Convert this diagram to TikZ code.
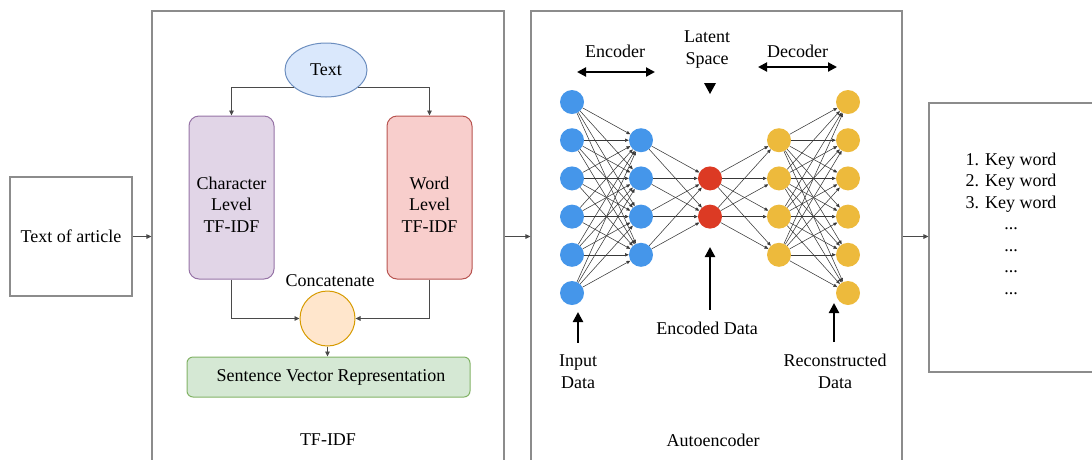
\documentclass[tikz,border=0pt]{standalone}
\usepackage{fontspec}
\setmainfont{Liberation Serif}
\usetikzlibrary{arrows.meta,shapes.geometric,calc}

\definecolor{panelgray}{HTML}{8C8C8C}
\definecolor{linkgray}{HTML}{4A4A4A}
\definecolor{txtfill}{HTML}{DAE8FC}\definecolor{txtdraw}{HTML}{6C8EBF}
\definecolor{chfill}{HTML}{E1D5E7}\definecolor{chdraw}{HTML}{9673A6}
\definecolor{wdfill}{HTML}{F8CECC}\definecolor{wddraw}{HTML}{B85450}
\definecolor{ccfill}{HTML}{FFE6CC}\definecolor{ccdraw}{HTML}{D79B00}
\definecolor{svfill}{HTML}{D5E8D4}\definecolor{svdraw}{HTML}{82B366}
\definecolor{nnblue}{HTML}{4596EA}
\definecolor{nnred}{HTML}{DC3A24}
\definecolor{nnyellow}{HTML}{EDBA3C}
\newcommand{\kwdots}{...}

\begin{document}
\begin{tikzpicture}[x=1pt,y=-1pt,
  font=\fontsize{18}{21.5}\selectfont,
  panel/.style={draw=panelgray, line width=1.1pt, rectangle, inner sep=0pt},
  roundbox/.style={rectangle, rounded corners=10pt, line width=1pt, inner sep=0pt},
  label/.style={inner sep=0pt, align=center},
  link/.style={draw=linkgray, line width=0.9pt, -{Triangle[length=5pt,width=4.5pt]}},
  nnedge/.style={draw=black!78, line width=0.55pt, -{Triangle[length=3.8pt,width=3.2pt]}},
  neuron/.style={circle, minimum size=24pt, inner sep=0pt},
  bigarrow/.style={line width=2.3pt, -{Triangle[length=10pt,width=10pt]}},
  dblarrow/.style={line width=2pt, {Triangle[length=9pt,width=9pt]}-{Triangle[length=9pt,width=9pt]}}
]
\clip (0,0) rectangle (1092,459);

% outer boxes and panels
\node[panel, minimum width=122pt, minimum height=119pt] (article) at (71,236.5) {Text of article};
\node[panel, minimum width=352pt, minimum height=469pt] (tfidfpanel) at (328,245.5) {};
\node[panel, minimum width=371pt, minimum height=469pt] (aepanel) at (716.5,245.5) {};
\node[panel, minimum width=171pt, minimum height=269pt] (outbox) at (1014.5,237.5) {};

\draw[link] (article.east) -- (article.east -| tfidfpanel.west);
\draw[link] (tfidfpanel.east |- article.east) -- (aepanel.west |- article.east);
\draw[link] (aepanel.east |- article.east) -- (outbox.west |- article.east);

% TF-IDF panel
\node[ellipse, draw=txtdraw, fill=txtfill, line width=1pt, minimum width=82pt, minimum height=54pt, inner sep=0pt] (text) at (326,70) {Text};
\node[roundbox, draw=chdraw, fill=chfill, minimum width=85pt, minimum height=163pt] (char) at (231.5,197.5) {};
\node[roundbox, draw=wddraw, fill=wdfill, minimum width=85pt, minimum height=163pt] (word) at (429.5,197.5) {};
\node[label] (charlbl) at (231.5,204.4) {Character\\Level\\TF-IDF};
\node[label] (wordlbl) at (429.5,204.4) {Word\\Level\\TF-IDF};
\node[circle, draw=ccdraw, fill=ccfill, line width=1pt, minimum size=55pt, inner sep=0pt] (concat) at (327.5,318.5) {};
\node[label, anchor=base] (concatlbl) at (330,286) {Concatenate};
\node[roundbox, rounded corners=6pt, draw=svdraw, fill=svfill, minimum width=283pt, minimum height=40pt] (sentvec) at (328.5,377) {\hspace*{5pt}Sentence Vector Representation};
\node[label] (tfidflbl) at (328,440) {TF-IDF};

\draw[link] (text.208) -| (char.north);
\draw[link] (text.332) -| (word.north);
\draw[link] (char.south) |- (concat.west);
\draw[link] (word.south) |- (concat.east);
\draw[link] (concat.south) -- (concat.south |- sentvec.north);

% Autoencoder panel: layers of neurons
\foreach \i in {1,...,6} {
  \pgfmathsetmacro{\yy}{102+38.2*(\i-1)}
  \node[neuron, fill=nnblue] (a\i) at (572,\yy) {};
  \node[neuron, fill=nnyellow] (e\i) at (848,\yy) {};
}
\foreach \i in {1,...,4} {
  \pgfmathsetmacro{\yy}{140.2+38.2*(\i-1)}
  \node[neuron, fill=nnblue] (b\i) at (641,\yy) {};
  \node[neuron, fill=nnyellow] (d\i) at (779,\yy) {};
}
\foreach \i in {1,2} {
  \pgfmathsetmacro{\yy}{178.4+38.2*(\i-1)}
  \node[neuron, fill=nnred] (c\i) at (710,\yy) {};
}

% fully connected weights
\foreach \i in {1,...,6} \foreach \j in {1,...,4} \draw[nnedge] (a\i) -- (b\j);
\foreach \i in {1,...,4} \foreach \j in {1,2} \draw[nnedge] (b\i) -- (c\j);
\foreach \i in {1,2} \foreach \j in {1,...,4} \draw[nnedge] (c\i) -- (d\j);
\foreach \i in {1,...,4} \foreach \j in {1,...,6} \draw[nnedge] (d\i) -- (e\j);

% annotations
\node[label] (enclbl) at (615,51) {Encoder};
\node[label] (latlbl) at (707,49.3) {Latent\\Space};
\node[label] (declbl) at (797.5,51) {Decoder};
\coordinate (encL) at (577,72);
\coordinate (encR) at (655,72);
\coordinate (decL) at (758,67);
\coordinate (decR) at (837,67);
\draw[dblarrow] (encL) -- (encR);
\draw[dblarrow] (decL) -- (decR);
\fill (704,83) -- (716,83) -- (710,94) -- cycle;

\node[label] (inlbl) at (578,371.5) {Input\\Data};
\node[label] (codelbl) at (707,328) {Encoded Data};
\node[label] (reclbl) at (835,371.5) {Reconstructed\\Data};
\coordinate (intip) at (578,312);
\coordinate (codetip) at (710,247);
\coordinate (rectip) at (834,303);
\draw[bigarrow, shorten <=12pt] (inlbl.north) -- (intip);
\draw[bigarrow, shorten <=11.7pt] (codelbl.north -| codetip) -- (codetip);
\draw[bigarrow, shorten <=12pt] (reclbl.north -| rectip) -- (rectip);
\node[label] (aelbl) at (713,440) {Autoencoder};

% keyword list
\foreach \k/\t/\b in {1/1. Key word/165, 2/2. Key word/186.5, 3/3. Key word/208,
                      4/\kwdots/229.5, 5/\kwdots/251, 6/\kwdots/272.5, 7/\kwdots/294} {
  \node[label, anchor=base] (kw\k) at (1011,\b) {\t};
}
\end{tikzpicture}
\end{document}
